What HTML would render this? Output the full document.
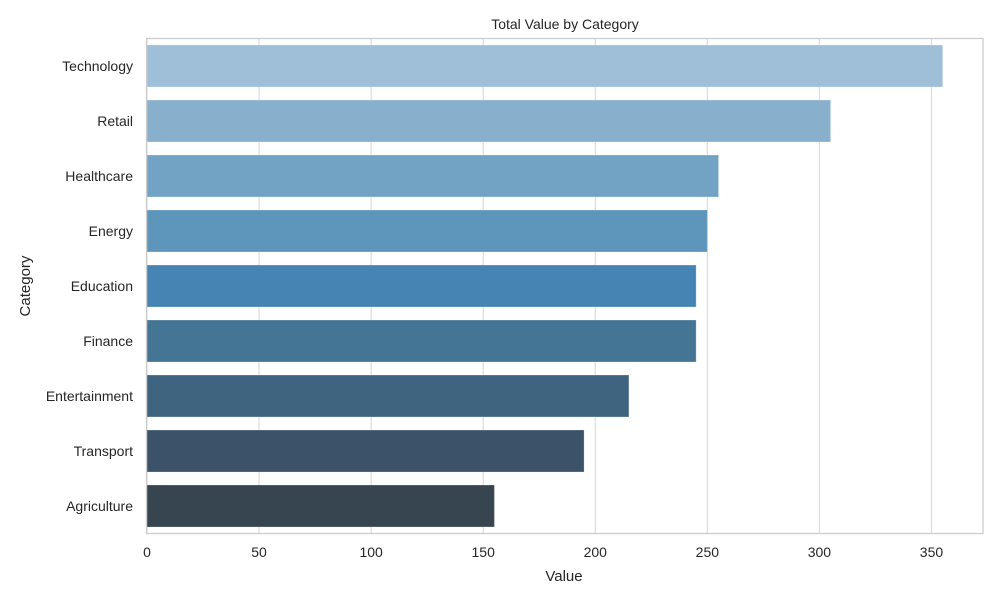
<!DOCTYPE html>
<html><head><meta charset="utf-8"><style>
body{margin:0;background:#fff;}
svg text{font-family:"Liberation Sans",Arial,sans-serif;fill:#262626;}
</style></head><body>
<svg id="chart" width="1000" height="600" viewBox="0 0 1000 600">
<text x="565" y="29" font-size="14" text-anchor="middle">Total Value by Category</text>
<g id="grid"></g><g id="bars"></g><g id="ticks"></g>
<rect x="146.5" y="38.5" width="836.5" height="495" fill="none" stroke="#cccccc" stroke-width="1.25"/>
<text x="564" y="581" font-size="15" text-anchor="middle">Value</text>
<text transform="translate(30,286) rotate(-90)" font-size="15" text-anchor="middle">Category</text>
</svg>
<script>
const categories=["Technology","Retail","Healthcare","Energy","Education","Finance","Entertainment","Transport","Agriculture"];
const values=[355,305,255,250,245,245,215,195,155];
const colors=["#9fbfd8","#88b0cc","#72a3c5","#5d95bb","#4684b3","#447595","#3f647f","#3c5269","#36454f"];
const xTicks=[0,50,100,150,200,250,300,350];
const NS="http://www.w3.org/2000/svg";
const x0=147,pxPer=2.2414,plotTop=38.5,slot=55;
const xs=v=>x0+v*pxPer;
function mk(t,a,p){const e=document.createElementNS(NS,t);for(const k in a)e.setAttribute(k,a[k]);p.appendChild(e);return e;}
const g=document.getElementById('grid'),b=document.getElementById('bars'),tk=document.getElementById('ticks');
xTicks.forEach(v=>{
 const l=mk('line',{x1:xs(v),x2:xs(v),y1:38.5,y2:533.5,stroke:'#dddddd','stroke-width':1.25},g);
 
 
 const t=mk('text',{x:xs(v),y:557,'font-size':14,'text-anchor':'middle'},tk);t.textContent=v;
 
 
});
categories.forEach((c,i)=>{
 const cy=plotTop+slot*(i+0.5);
 const r=mk('rect',{x:x0,y:cy-21,width:xs(values[i])-x0,height:42,fill:colors[i],stroke:'rgba(255,255,255,0.25)','stroke-width':1},b);
 
 
 const t=mk('text',{x:133,y:cy+5,'font-size':14,'text-anchor':'end'},tk);t.textContent=c;
 
 
});
</script>
</body></html>
